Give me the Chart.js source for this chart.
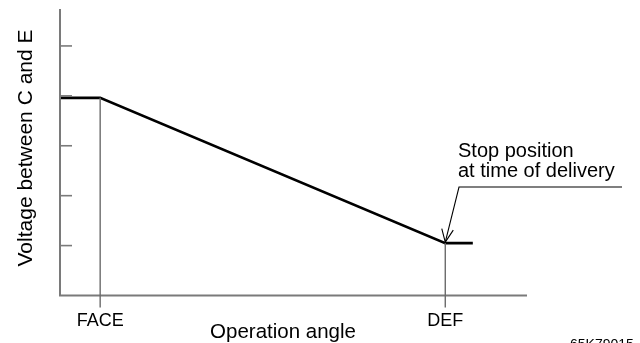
<!DOCTYPE html>
<html>
<head>
<meta charset="utf-8">
<script src="https://cdn.jsdelivr.net/npm/chart.js@4.4.1/dist/chart.umd.min.js"></script>
<style>
  html, body { margin: 0; padding: 0; background: #fff; }
  #wrap { width: 640px; height: 343px; position: relative; }
</style>
</head>
<body>
<div id="wrap"><canvas id="c" width="640" height="343"></canvas></div>
<script>
// ---- data ----
const angleLabels = ['FACE', 'DEF'];
const anglePositions = [8.6, 82.5];          // positions on the operation-angle axis (0–100)
const lineX = [0, 8.6, 82.5, 88.4];          // operation angle
const lineY = [3.96, 3.96, 1.05, 1.05];      // voltage between C and E
const yTicks = [1, 2, 3, 4, 5];
const xTitle = 'Operation angle';
const yTitle = 'Voltage between C and E';
const noteLines = ['Stop position', 'at time of delivery'];
const figureCode = '65K79015';

const FONT = '"Liberation Sans", Arial, Helvetica, sans-serif';
const AXIS_COLOR = '#7a7a7a';

const decor = {
  id: 'decor',
  afterDatasetsDraw(chart) {
    const { ctx, chartArea: a, scales: { x, y } } = chart;
    ctx.save();
    // axes
    ctx.strokeStyle = AXIS_COLOR;
    ctx.lineWidth = 2;
    ctx.beginPath();
    ctx.moveTo(a.left, a.top);
    ctx.lineTo(a.left, a.bottom);
    ctx.lineTo(a.right, a.bottom);
    ctx.stroke();
    // y ticks (inside)
    ctx.lineWidth = 1.6;
    yTicks.forEach(v => {
      const py = y.getPixelForValue(v);
      ctx.beginPath();
      ctx.moveTo(a.left, py);
      ctx.lineTo(a.left + 12, py);
      ctx.stroke();
    });
    // drop lines at FACE / DEF
    ctx.strokeStyle = '#6a6a6a';
    ctx.lineWidth = 1.4;
    anglePositions.forEach((v, i) => {
      const px = x.getPixelForValue(v);
      const yv = i === 0 ? lineY[1] : lineY[2];
      ctx.beginPath();
      ctx.moveTo(px, y.getPixelForValue(yv));
      ctx.lineTo(px, a.bottom + 12);
      ctx.stroke();
    });
    // labels FACE / DEF
    ctx.fillStyle = '#000';
    ctx.font = '18px ' + FONT;
    ctx.textAlign = 'center';
    ctx.textBaseline = 'alphabetic';
    angleLabels.forEach((t, i) => {
      ctx.fillText(t, x.getPixelForValue(anglePositions[i]), a.bottom + 30.5);
    });
    // x title
    ctx.font = '20.5px ' + FONT;
    ctx.fillText(xTitle, 283, 338);
    // y title
    ctx.save();
    ctx.translate(32, 148);
    ctx.rotate(-Math.PI / 2);
    ctx.font = '21px ' + FONT;
    ctx.textAlign = 'center';
    ctx.fillText(yTitle, 0, 0);
    ctx.restore();
    // annotation
    ctx.font = '20px ' + FONT;
    ctx.textAlign = 'left';
    ctx.fillText(noteLines[0], 458, 157);
    ctx.fillText(noteLines[1], 458, 176.5);
    // leader + arrow
    const tipX = x.getPixelForValue(lineX[2]);
    const tipY = y.getPixelForValue(lineY[2]) - 1;
    ctx.strokeStyle = '#000';
    ctx.lineWidth = 1.1;
    ctx.beginPath();
    ctx.moveTo(622, 187);
    ctx.lineTo(459, 187);
    ctx.lineTo(tipX, tipY);
    ctx.stroke();
    ctx.beginPath();
    ctx.moveTo(tipX - 3.5, tipY - 13.5);
    ctx.lineTo(tipX, tipY);
    ctx.lineTo(tipX + 8, tipY - 12);
    ctx.stroke();
    // figure code (clipped at bottom)
    ctx.font = '14px ' + FONT;
    ctx.fillText(figureCode, 570, 349);
    ctx.restore();
  }
};

new Chart(document.getElementById('c'), {
  type: 'line',
  data: {
    datasets: [{
      data: lineX.map((v, i) => ({ x: v, y: lineY[i] })),
      borderColor: '#000',
      borderWidth: 2.6,
      pointRadius: 0,
      tension: 0,
      fill: false
    }]
  },
  options: {
    responsive: false,
    animation: false,
    layout: { padding: { left: 60, top: 9, right: 113, bottom: 47.5 } },
    plugins: { legend: { display: false }, tooltip: { enabled: false } },
    scales: {
      x: { type: 'linear', min: 0, max: 100, display: false },
      y: { type: 'linear', min: 0, max: 5.74, display: false }
    }
  },
  plugins: [decor]
});
</script>
</body>
</html>
